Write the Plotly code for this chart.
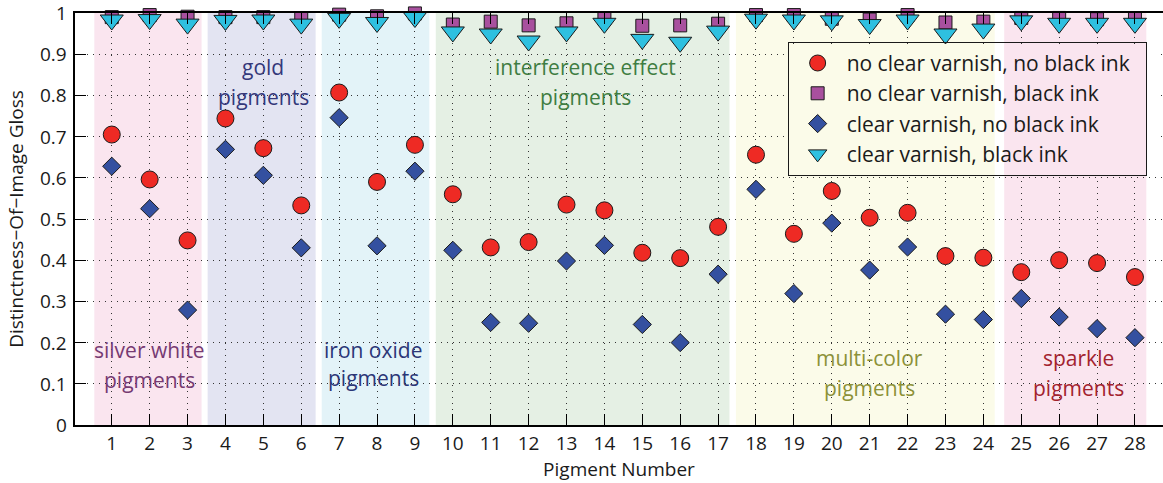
import plotly.graph_objects as go

pigments = list(range(1, 29))
tick_labels = [str(p) for p in pigments]

no_varnish_no_ink = [0.705, 0.596, 0.448, 0.744, 0.672, 0.533, 0.807, 0.590, 0.680, 0.560,
                     0.431, 0.444, 0.535, 0.521, 0.418, 0.405, 0.481, 0.656, 0.464, 0.568,
                     0.503, 0.515, 0.410, 0.406, 0.371, 0.400, 0.393, 0.359]
no_varnish_ink = [0.990, 0.995, 0.991, 0.990, 0.990, 0.986, 0.996, 0.992, 0.999, 0.972,
                  0.979, 0.970, 0.975, 0.987, 0.969, 0.970, 0.974, 0.995, 0.995, 0.986,
                  0.984, 0.995, 0.977, 0.979, 0.988, 0.988, 0.985, 0.987]
varnish_no_ink = [0.628, 0.525, 0.279, 0.669, 0.606, 0.430, 0.746, 0.435, 0.616, 0.424,
                  0.249, 0.247, 0.398, 0.436, 0.244, 0.200, 0.366, 0.572, 0.319, 0.490,
                  0.376, 0.432, 0.269, 0.256, 0.307, 0.262, 0.234, 0.212]
varnish_ink = [0.983, 0.984, 0.973, 0.982, 0.983, 0.973, 0.987, 0.977, 0.989, 0.954,
               0.949, 0.932, 0.954, 0.975, 0.936, 0.929, 0.956, 0.985, 0.983, 0.981,
               0.972, 0.983, 0.949, 0.961, 0.981, 0.975, 0.975, 0.975]

series_names = ["no clear varnish, no black ink", "no clear varnish, black ink",
                "clear varnish, no black ink", "clear varnish, black ink"]

y_ticks = [0, 0.1, 0.2, 0.3, 0.4, 0.5, 0.6, 0.7, 0.8, 0.9, 1]
y_tick_labels = ["0", "0.1", "0.2", "0.3", "0.4", "0.5", "0.6", "0.7", "0.8", "0.9", "1"]

group_names = [["silver white", "pigments"], ["gold", "pigments"], ["iron oxide", "pigments"],
               ["interference effect", "pigments"], ["multi-color", "pigments"],
               ["sparkle", "pigments"]]
group_start = [0.54, 3.53, 6.54, 9.55, 17.47, 24.55]
group_end = [3.37, 6.38, 9.38, 17.3, 24.3, 28.3]
group_fill = ["#fae5ef", "#e3e4f2", "#e3f3f8", "#e5f0e4", "#fbfbe9", "#fae5ef"]
group_text_color = ["#763a72", "#34387a", "#2b3677", "#3f7d42", "#8c9138", "#a2222e"]
group_label_x = [2, 5, 7.9, 13.5, 21, 26.5]
group_label_y = [[0.182, 0.109], [0.870, 0.795], [0.182, 0.114], [0.870, 0.795],
                 [0.162, 0.090], [0.162, 0.090]]

FONT = "Open Sans"
PAD = "\u00a0" * 2

fig = go.Figure()

fig.add_trace(go.Scatter(x=pigments, y=no_varnish_no_ink, mode="markers", name=series_names[0] + PAD,
                         marker=dict(symbol="circle", size=17, color="#ee2a24",
                                     line=dict(color="#1a1a1a", width=1)), cliponaxis=False))
fig.add_trace(go.Scatter(x=pigments, y=no_varnish_ink, mode="markers", name=series_names[1],
                         marker=dict(symbol="square", size=13, color="#a8509e",
                                     line=dict(color="#1a1a1a", width=1)), cliponaxis=False))
fig.add_trace(go.Scatter(x=pigments, y=varnish_no_ink, mode="markers", name=series_names[2],
                         marker=dict(symbol="diamond", size=14, color="#3450a0",
                                     line=dict(color="#1a1a1a", width=1)), cliponaxis=False))
fig.add_trace(go.Scatter(x=pigments, y=varnish_ink, mode="markers", name=series_names[3],
                         marker=dict(symbol="triangle-down", size=20, color="#2ec0e0",
                                     line=dict(color="#1a1a1a", width=1)), cliponaxis=False))

shapes = []
for s, e, c in zip(group_start, group_end, group_fill):
    shapes.append(dict(type="rect", xref="x", yref="y", x0=s, x1=e, y0=0, y1=1,
                       fillcolor=c, line=dict(width=0), layer="below"))

# mask grid behind legend box (legend has no grid showing through)
leg_x0, leg_x1, leg_y0, leg_y1 = 18.85, 28.6, 0.61, 0.925
mask_parts = [(leg_x0, group_end[4], group_fill[4]), (group_end[4], group_start[5], "white"),
              (group_start[5], group_end[5], group_fill[5]), (group_end[5], leg_x1, "white")]
for a, b, c in mask_parts:
    shapes.append(dict(type="rect", xref="x", yref="y", x0=a, x1=b, y0=leg_y0, y1=leg_y1,
                       fillcolor=c, line=dict(width=0), layer="between"))

annotations = []
for names, gx, gy, col in zip(group_names, group_label_x, group_label_y, group_text_color):
    for t, yy in zip(names, gy):
        annotations.append(dict(x=gx, y=yy, xref="x", yref="y", text=t, showarrow=False,
                                font=dict(family=FONT, size=21, color=col),
                                xanchor="center", yanchor="middle"))
# y tick labels, placed on the y scale at the tick values
for yv, yl in zip(y_ticks, y_tick_labels):
    annotations.append(dict(x=0, xref="paper", y=yv, yref="y", text=yl,
                            showarrow=False, xanchor="right", yanchor="middle", xshift=-6,
                            font=dict(family=FONT, size=19, color="#1a1a1a")))

fig.update_layout(
    width=1163, height=483,
    margin=dict(l=75, r=0, t=13, b=58, autoexpand=False),
    paper_bgcolor="white", plot_bgcolor="white",
    font=dict(family=FONT, size=19, color="#1a1a1a"),
    shapes=shapes, annotations=annotations,
    showlegend=True,
    legend=dict(x=0.655, y=0.93, xanchor="left", yanchor="top",
                bgcolor="rgba(0,0,0,0)", bordercolor="#1a1a1a", borderwidth=1,
                font=dict(family=FONT, size=21, color="#1a1a1a"),
                itemsizing="trace", itemwidth=48),
)

fig.update_xaxes(range=[0.03, 28.74], tickvals=pigments, ticktext=tick_labels,
                 ticks="inside", ticklen=11, tickwidth=1.3, tickcolor="black",
                 showline=True, linecolor="black", linewidth=1.5, mirror="ticks",
                 showgrid=True, gridcolor="#333333", gridwidth=1, griddash="1px,5px",
                 zeroline=False, automargin=False,
                 title=dict(text="Pigment Number", standoff=0, font=dict(size=19)),
                 tickfont=dict(size=19))
fig.update_yaxes(range=[0, 1], tickvals=y_ticks, showticklabels=False,
                 ticks="inside", ticklen=11, tickwidth=1.3, tickcolor="black",
                 showline=True, linecolor="black", linewidth=1.5, mirror=False,
                 showgrid=True, gridcolor="#333333", gridwidth=1, griddash="1px,5px",
                 zeroline=False, automargin=False,
                 title=dict(text="Distinctness−Of−Image Gloss", standoff=45, font=dict(size=19)))

fig.write_html("out.html", config={"displayModeBar": False},
               post_script="document.body.style.margin='0';")
